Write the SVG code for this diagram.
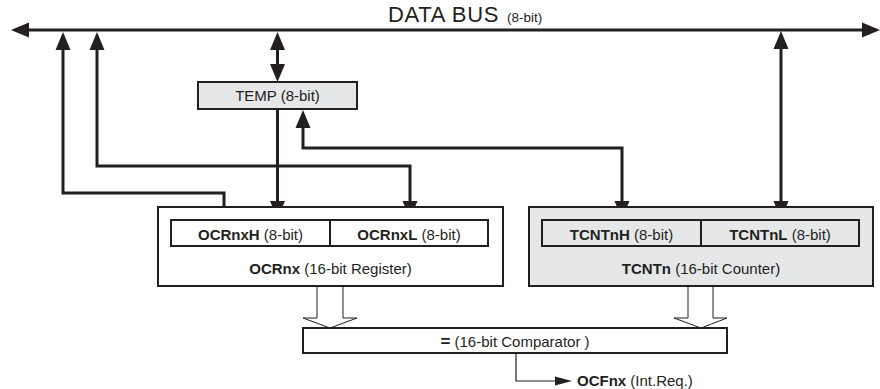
<svg xmlns="http://www.w3.org/2000/svg" width="880" height="389" viewBox="0 0 880 389">
<defs>
<style>
text{font-family:"Liberation Sans",Arial,sans-serif;fill:#231f20;font-size:15px}
.c{text-anchor:middle}
.b{font-weight:bold}
.box{stroke:#231f20;stroke-width:2}
.w{fill:#ffffff}
.g{fill:#e6e7e8}
.wire{fill:none;stroke:#231f20;stroke-width:3}
.thin{fill:#ffffff;stroke:#231f20;stroke-width:1}
</style>
<marker id="ah" markerUnits="userSpaceOnUse" markerWidth="18" markerHeight="16" refX="14" refY="7.5" orient="auto-start-reverse" viewBox="0 0 18 15">
<path d="M0,0 L18,7.5 L0,15 z" fill="#231f20"/>
</marker>
</defs>

<g id="connectors">
<line class="wire" x1="15" y1="30" x2="876" y2="30" marker-start="url(#ah)" marker-end="url(#ah)"/>
<path class="wire" d="M224,220 V193 H63 V36" marker-end="url(#ah)"/>
<path class="wire" d="M97,36 V166 H410 V215" marker-start="url(#ah)" marker-end="url(#ah)"/>
<path class="wire" d="M277.5,36 V78" marker-start="url(#ah)" marker-end="url(#ah)"/>
<path class="wire" d="M277.5,110 V215" marker-end="url(#ah)"/>
<path class="wire" d="M303,114 V148 H622 V215" marker-start="url(#ah)" marker-end="url(#ah)"/>
<path class="wire" d="M781,35 V215" marker-start="url(#ah)" marker-end="url(#ah)"/>
<polygon class="thin" points="317,286 317,318 303,318 330,328 357,318 343,318 343,286"/>
<polygon class="thin" points="688,286 688,318 674,318 701,328 727,318 713,318 713,286"/>
<path d="M516,353 V381 H557" fill="none" stroke="#231f20" stroke-width="1.2"/>
<polygon points="555,376.5 572,381 555,385.5" fill="#231f20"/>
</g>

<g id="databus">
<text x="388" y="22" style="font-size:22px;letter-spacing:0.7px">DATA BUS</text>
<text x="507" y="22" style="font-size:13.5px">(8-bit)</text>
</g>

<g id="temp">
<rect class="box g" x="198" y="82" width="159" height="27"/>
<text class="c" x="277.5" y="100.5">TEMP (8-bit)</text>
</g>

<g id="ocrnx">
<rect class="box w" x="158" y="207" width="345" height="79"/>
<text class="c" x="330.5" y="274"><tspan class="b">OCRnx</tspan> (16-bit Register)</text>
</g>
<g id="ocrnxh">
<rect class="box w" x="171" y="220" width="159" height="26"/>
<text class="c" x="250.5" y="240"><tspan class="b">OCRnxH</tspan> (8-bit)</text>
</g>
<g id="ocrnxl">
<rect class="box w" x="330" y="220" width="158" height="26"/>
<text class="c" x="409" y="240"><tspan class="b">OCRnxL</tspan> (8-bit)</text>
</g>

<g id="tcntn">
<rect class="box g" x="529" y="207" width="344" height="79"/>
<text class="c" x="701" y="274"><tspan class="b">TCNTn</tspan> (16-bit Counter)</text>
</g>
<g id="tcntnh">
<rect class="box g" x="542" y="220" width="159" height="26"/>
<text class="c" x="621.5" y="240"><tspan class="b">TCNTnH</tspan> (8-bit)</text>
</g>
<g id="tcntnl">
<rect class="box g" x="701" y="220" width="158" height="26"/>
<text class="c" x="780" y="240"><tspan class="b">TCNTnL</tspan> (8-bit)</text>
</g>

<g id="comparator">
<rect class="box w" x="303" y="328" width="424" height="25"/>
<text class="c" x="515" y="346.5"><tspan class="b" style="font-size:17px">=</tspan> (16-bit Comparator )</text>
</g>

<g id="ocfnx">
<text x="577" y="385.5"><tspan class="b">OCFnx</tspan> (Int.Req.)</text>
</g>
</svg>
